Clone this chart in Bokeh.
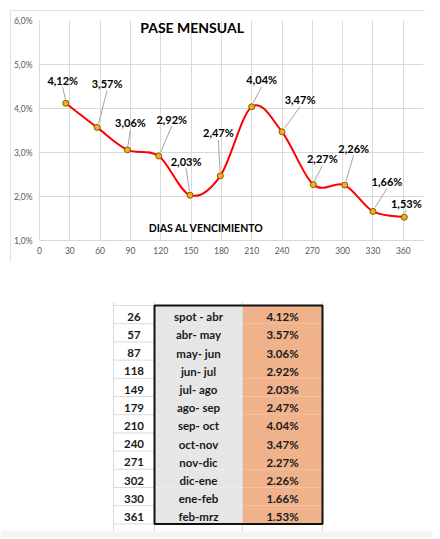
from bokeh.plotting import figure
from bokeh.layouts import column
from bokeh.models import Range1d, FixedTicker, CustomJSTickFormatter, Label
from bokeh.core.properties import value
from bokeh.embed import file_html
from bokeh.resources import INLINE

# ---- data ----
days = [26, 57, 87, 118, 149, 179, 210, 240, 271, 302, 330, 361]
pase = [4.12, 3.57, 3.06, 2.92, 2.03, 2.47, 4.04, 3.47, 2.27, 2.26, 1.66, 1.53]
periods = ["spot - abr", "abr- may", "may- jun", "jun- jul", "jul- ago", "ago- sep",
           "sep- oct", "oct-nov", "nov-dic", "dic-ene", "ene-feb", "feb-mrz"]
x_ticks = [0, 30, 60, 90, 120, 150, 180, 210, 240, 270, 300, 330, 360]
y_ticks = [1, 2, 3, 4, 5, 6]

# label placement (screen pixels relative to the point, y down)
label_dx = [-3, 10, 3, 13, -4, -2, 10, 18, 9, 9, 14, 2]
label_dy = [-23, -44, -27, -37, -34, -43, -27, -32, -26, -37, -30, -14]

FONT = "Lato"
GRID = "#d9d9d9"

# ---- chart ----
x0, x1, y0, y1 = 0, 380, 1, 6
px_per_day = 1.011
frame_w = round((x1 - x0) * px_per_day)
frame_h = 220
px_per_pct = frame_h / (y1 - y0)

p = figure(width=415, height=252, x_range=Range1d(x0, x1), y_range=Range1d(y0, y1),
           output_backend="svg", toolbar_location=None,
           min_border_left=29, min_border_top=10, min_border_right=415 - 29 - frame_w,
           min_border_bottom=22)
p.margin = (10, 0, 0, 10)
p.frame_align = False
p.styles = {"outline": "1px solid #d9d9d9", "outline-offset": "-1px"}
p.outline_line_color = None
p.background_fill_color = "white"
p.border_fill_color = "white"

for ax in (p.xaxis[0], p.yaxis[0]):
    ax.axis_line_color = GRID
    ax.major_tick_line_color = None
    ax.minor_tick_line_color = None
    ax.major_tick_out = 0
    ax.major_tick_in = 0
    ax.minor_tick_out = 0
    ax.major_label_text_font = FONT
    ax.major_label_text_font_size = "8.5px"
    ax.major_label_text_color = "#595959"
p.xaxis.major_label_standoff = 6
p.yaxis.major_label_standoff = 7
p.xaxis.ticker = FixedTicker(ticks=x_ticks)
p.yaxis.ticker = FixedTicker(ticks=y_ticks)
p.yaxis.formatter = CustomJSTickFormatter(code="return tick.toFixed(1).replace('.', ',') + '%';")
p.xgrid.ticker = FixedTicker(ticks=x_ticks)
p.ygrid.ticker = FixedTicker(ticks=y_ticks)
p.grid.grid_line_color = GRID

# smooth curve (Catmull-Rom bezier through data points, like Excel's smoothed line)
n = len(days)
bx0, by0, bx1, by1, cx0, cy0, cx1, cy1 = [], [], [], [], [], [], [], []
for i in range(n - 1):
    pm = i - 1 if i > 0 else i
    pp = i + 2 if i + 2 < n else i + 1
    bx0.append(days[i]); by0.append(pase[i])
    bx1.append(days[i + 1]); by1.append(pase[i + 1])
    cx0.append(days[i] + (days[i + 1] - days[pm]) / 6)
    cy0.append(pase[i] + (pase[i + 1] - pase[pm]) / 6)
    cx1.append(days[i + 1] - (days[pp] - days[i]) / 6)
    cy1.append(pase[i + 1] - (pase[pp] - pase[i]) / 6)
p.bezier(x0=bx0, y0=by0, x1=bx1, y1=by1, cx0=cx0, cy0=cy0, cx1=cx1, cy1=cy1,
         line_color="#ff0000", line_width=2)

# leader lines
lx0 = [d + dx / px_per_day * 0.15 for d, dx in zip(days, label_dx)]
ly0 = [v + 4 / px_per_pct for v in pase]
lx1 = [d + dx / px_per_day for d, dx in zip(days, label_dx)]
ly1 = [v - (dy + 7) / px_per_pct for v, dy in zip(pase, label_dy)]
p.segment(x0=lx0, y0=ly0, x1=lx1, y1=ly1, line_color="#8c8c8c", line_width=0.8)

p.scatter(days, pase, size=6, marker="circle", fill_color="#f2b01e", line_color="#7f5a00", line_width=1)

for d, v, dx, dy in zip(days, pase, label_dx, label_dy):
    p.add_layout(Label(x=d, y=v, x_offset=dx, y_offset=-dy,
                       text=f"{v:.2f}".replace(".", ",") + "%",
                       text_font=FONT, text_font_style="bold", text_font_size="11px",
                       text_color="#000000", text_align="center", text_baseline="middle"))

p.add_layout(Label(x=151, y=5.84, text="PASE MENSUAL", text_font=FONT, text_font_style="bold",
                   text_font_size="14px", text_align="center", text_baseline="middle",
                   text_color="#000000"))
p.add_layout(Label(x=165, y=1.295, text="DIAS AL VENCIMIENTO", text_font=FONT, text_font_style="bold",
                   text_font_size="10.5px", text_align="center", text_baseline="middle",
                   text_color="#000000"))

# ---- table ----
col_edges = [113, 154, 242, 322]
nrows = len(days)
row_h = 18.2
tbl_h = 275
tbl_top = 43  # px from figure top to first row
t = figure(width=432, height=tbl_h, x_range=Range1d(0, 432),
           y_range=Range1d((tbl_h - tbl_top) / row_h, -tbl_top / row_h),
           output_backend="svg", toolbar_location=None, min_border=0,
           min_border_left=0, min_border_right=0, min_border_top=0, min_border_bottom=0,
           x_axis_location=None, y_axis_location=None)
t.frame_align = False
t.grid.visible = False
t.outline_line_color = None
t.background_fill_color = "white"
t.border_fill_color = "white"

rows = list(range(nrows))
tops = rows
bottoms = [r + 1 for r in rows]
grid_end = nrows + 0.4
# sheet band below
t.quad(left=0, right=432, top=grid_end, bottom=(tbl_h - tbl_top) / row_h,
       fill_color="#f4f4f4", line_color=None)
t.quad(left=col_edges[1], right=col_edges[2], top=tops, bottom=bottoms,
       fill_color="#e7e6e6", line_color=None)
t.quad(left=col_edges[2], right=col_edges[3], top=tops, bottom=bottoms,
       fill_color="#efb28a", line_color=None)
# light sheet grid
t.segment(x0=[col_edges[0]] * (nrows + 1), x1=[col_edges[1]] * (nrows + 1),
          y0=list(range(nrows + 1)), y1=list(range(nrows + 1)), line_color=GRID, line_width=1)
t.segment(x0=col_edges, x1=col_edges, y0=[-0.2] * 4, y1=[grid_end] * 4,
          line_color=GRID, line_width=1)
# black box
t.quad(left=col_edges[1], right=col_edges[3], top=0, bottom=nrows,
       fill_color=None, line_color="#111111", line_width=2)

centers = [(col_edges[0] + col_edges[1]) / 2, (col_edges[1] + col_edges[2]) / 2,
           (col_edges[2] + col_edges[3]) / 2]
ys = [r + 0.62 for r in rows]
for cx, texts in zip(centers, [[str(d) for d in days], periods, [f"{v:.2f}%" for v in pase]]):
    t.text(x=[cx] * nrows, y=ys, text=texts, text_font=value(FONT), text_font_style="bold",
           text_font_size="11.5px", text_color="#1a1a1a", text_align="center", text_baseline="middle")

layout = column(p, t, spacing=0)
open("out.html", "w").write(file_html(layout, INLINE))
